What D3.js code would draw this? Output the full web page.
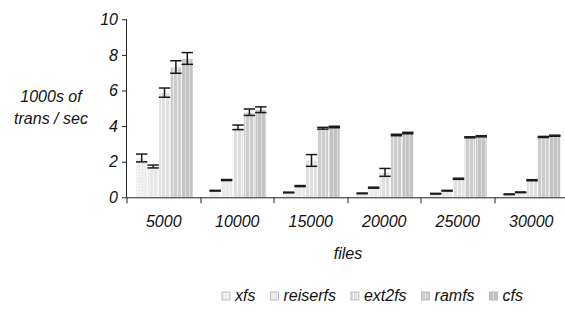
<!DOCTYPE html>
<html><head><meta charset="utf-8">
<script src="https://cdn.jsdelivr.net/npm/d3@7"></script>
<style>
body{margin:0;background:#fff;}
text{font-family:"Liberation Sans",Arial,sans-serif;font-style:italic;fill:#111;}
</style></head><body>
<svg id="c" width="565" height="314"></svg>
<script>
const categories = ["5000","10000","15000","20000","25000","30000"];
const seriesNames = ["xfs","reiserfs","ext2fs","ramfs","cfs"];
const xfs      = [2.21, 0.37, 0.27, 0.22, 0.20, 0.17];
const reiserfs = [1.73, 0.97, 0.63, 0.54, 0.37, 0.28];
const ext2fs   = [5.88, 3.93, 2.07, 1.40, 1.04, 0.96];
const ramfs    = [7.32, 4.78, 3.88, 3.50, 3.37, 3.39];
const cfs      = [7.80, 4.92, 3.95, 3.61, 3.43, 3.46];
const xfsErr      = [0.22, 0.02, 0.02, 0.02, 0.02, 0.02];
const reiserfsErr = [0.08, 0.03, 0.03, 0.03, 0.02, 0.02];
const ext2fsErr   = [0.26, 0.13, 0.33, 0.22, 0.03, 0.03];
const ramfsErr    = [0.35, 0.18, 0.05, 0.04, 0.03, 0.03];
const cfsErr      = [0.33, 0.16, 0.04, 0.04, 0.03, 0.03];
const yTicks = [0,2,4,6,8,10];

const values = [xfs, reiserfs, ext2fs, ramfs, cfs];
const errs = [xfsErr, reiserfsErr, ext2fsErr, ramfsErr, cfsErr];

const svg = d3.select("#c");
const mLeft = 127, mTop = 19.3, mBottom = 197.3, mRight = 568;

// patterns
const defs = svg.append("defs");
const fills = ["#f1f1f1","#e9e9e9","#dfdfdf","#cdcdcd","#c3c3c3"];
const stripe = ["#dedede","#f4f4f4","#f7f7f7","#eaeaea","#dddddd"];
seriesNames.forEach((s,i)=>{
  const p = defs.append("pattern").attr("id","p"+i).attr("patternUnits","userSpaceOnUse")
    .attr("width",i===0?3:4).attr("height",i===0?3:4);
  p.append("rect").attr("width",4).attr("height",4).attr("fill",fills[i]);
  if(i===0){
    p.append("rect").attr("x",1).attr("y",1).attr("width",1).attr("height",1).attr("fill",stripe[i]);
  } else {
    p.append("rect").attr("x",1).attr("y",0).attr("width",1).attr("height",4).attr("fill",stripe[i]);
  }
});

const x = d3.scaleBand().domain(categories).range([mLeft,mRight]).paddingInner(0).paddingOuter(0);
const xs = d3.scaleBand().domain(seriesNames).range([9, x.bandwidth()-7.5]).padding(0);
const y = d3.scaleLinear().domain([0,10]).range([mBottom, mTop]);

// bars
categories.forEach((c,ci)=>{
  seriesNames.forEach((s,si)=>{
    const v = values[si][ci];
    svg.append("rect").attr("x", x(c)+xs(s)).attr("y", y(v))
      .attr("width", xs.bandwidth()).attr("height", y(0)-y(v))
      .attr("fill","url(#p"+si+")").attr("stroke","#fff").attr("stroke-width",0.6);
  });
});
// error bars
categories.forEach((c,ci)=>{
  seriesNames.forEach((s,si)=>{
    const v = values[si][ci], e = errs[si][ci];
    const cx = x(c)+xs(s)+xs.bandwidth()/2, hw = xs.bandwidth()/2;
    const g = svg.append("g").attr("stroke","#1a1a1a").attr("stroke-width",1.5);
    g.append("line").attr("x1",cx).attr("x2",cx).attr("y1",y(v+e)).attr("y2",y(v-e));
    g.append("line").attr("x1",cx-hw).attr("x2",cx+hw).attr("y1",y(v+e)).attr("y2",y(v+e));
    g.append("line").attr("x1",cx-hw).attr("x2",cx+hw).attr("y1",y(v-e)).attr("y2",y(v-e));
  });
});

// y axis
const ya = svg.append("g").attr("transform",`translate(${mLeft},0)`)
  .call(d3.axisLeft(y).tickValues(yTicks).tickSize(5).tickPadding(4).tickFormat(d3.format("d")));
ya.select(".domain").attr("stroke","#222").attr("d",`M-0.5,${mBottom}V${mTop}`);
ya.selectAll(".tick line").attr("stroke","#222");
ya.selectAll("text").attr("font-size",16).attr("font-family","Liberation Sans, Arial, sans-serif").attr("fill","#111");

// x axis
const xa = svg.append("g").attr("transform",`translate(0,${mBottom})`)
  .call(d3.axisBottom(x).tickSize(0).tickPadding(18));
xa.select(".domain").attr("stroke","#222").attr("d",`M${mLeft},0.5H${mRight}`);
xa.selectAll("text").attr("font-size",16).attr("font-family","Liberation Sans, Arial, sans-serif").attr("fill","#111");
categories.concat([null]).forEach((c,i)=>{
  const px = Math.round(mLeft + i*x.step());
  xa.append("line").attr("x1",px).attr("x2",px).attr("y1",0).attr("y2",6).attr("stroke","#222");
});

// axis titles
svg.append("text").attr("x",51).attr("y",102).attr("text-anchor","middle").attr("font-size",16).text("1000s of");
svg.append("text").attr("x",51).attr("y",124).attr("text-anchor","middle").attr("font-size",16).text("trans / sec");
svg.append("text").attr("x",348).attr("y",259).attr("text-anchor","middle").attr("font-size",16).text("files");

// legend (laid out sequentially)
const lg = svg.append("g");
let lx = 222;
seriesNames.forEach((s,i)=>{
  lg.append("rect").attr("x",lx).attr("y",292).attr("width",8).attr("height",8)
    .attr("fill","url(#p"+i+")").attr("stroke","#aaa").attr("stroke-width",0.7);
  const t = lg.append("text").attr("x",lx+13).attr("y",301).attr("font-size",16).text(s);
  lx += 13 + t.node().getComputedTextLength() + 15;
});
</script>
</body></html>
